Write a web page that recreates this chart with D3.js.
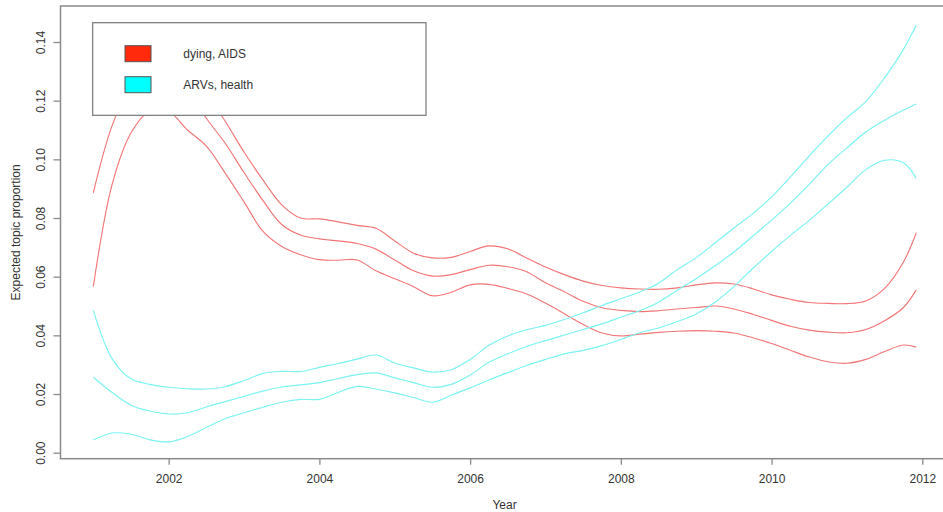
<!DOCTYPE html>
<html>
<head>
<meta charset="utf-8">
<script src="https://cdn.jsdelivr.net/npm/d3@7"></script>
<style>
  html, body { margin: 0; padding: 0; background: #fff; }
  svg { display: block; font-family: "Liberation Sans", Arial, Helvetica, sans-serif; }
</style>
</head>
<body>
<svg id="chart" width="943" height="512"></svg>
<script>
// ---- data ----
const years = [2001.00, 2001.25, 2001.50, 2001.75, 2002.00, 2002.25, 2002.50, 2002.75,
  2003.00, 2003.25, 2003.50, 2003.75, 2004.00, 2004.25, 2004.50, 2004.75,
  2005.00, 2005.25, 2005.50, 2005.75, 2006.00, 2006.25, 2006.50, 2006.75,
  2007.00, 2007.25, 2007.50, 2007.75, 2008.00, 2008.25, 2008.50, 2008.75,
  2009.00, 2009.25, 2009.50, 2009.75, 2010.00, 2010.25, 2010.50, 2010.75,
  2011.00, 2011.25, 2011.50, 2011.75, 2011.92];

const aidsUpper = [0.1210, 0.1330, 0.1410, 0.1455, 0.1435, 0.1340, 0.1225, 0.1130,
  0.1025, 0.0930, 0.0845, 0.0800, 0.0797, 0.0787, 0.0775, 0.0765,
  0.0722, 0.0680, 0.0664, 0.0666, 0.0686, 0.0705, 0.0695, 0.0664,
  0.0633, 0.0607, 0.0585, 0.0570, 0.0562, 0.0558, 0.0557, 0.0562,
  0.0572, 0.0579, 0.0575, 0.0559, 0.0538, 0.0523, 0.0512, 0.0509,
  0.0508, 0.0517, 0.0560, 0.0650, 0.0750];
const aidsMean = [0.0886, 0.1115, 0.1250, 0.1310, 0.1305, 0.1240, 0.1140, 0.1055,
  0.0955, 0.0860, 0.0778, 0.0742, 0.0729, 0.0722, 0.0713, 0.0694,
  0.0657, 0.0620, 0.0602, 0.0607, 0.0624, 0.0639, 0.0634, 0.0617,
  0.0579, 0.0549, 0.0516, 0.0494, 0.0485, 0.0481, 0.0484, 0.0490,
  0.0495, 0.0500, 0.0490, 0.0472, 0.0451, 0.0431, 0.0418, 0.0411,
  0.0409, 0.0420, 0.0450, 0.0495, 0.0555];
const aidsLower = [0.0566, 0.0915, 0.1090, 0.1165, 0.1163, 0.1100, 0.1045, 0.0953,
  0.0855, 0.0755, 0.0703, 0.0675, 0.0658, 0.0656, 0.0657, 0.0620,
  0.0593, 0.0566, 0.0535, 0.0547, 0.0572, 0.0574, 0.0560, 0.0541,
  0.0510, 0.0474, 0.0437, 0.0408, 0.0398, 0.0404, 0.0410, 0.0414,
  0.0416, 0.0414, 0.0408, 0.0392, 0.0372, 0.0349, 0.0326, 0.0310,
  0.0305, 0.0318, 0.0345, 0.0367, 0.0360];

const arvUpper = [0.0485, 0.0320, 0.0252, 0.0233, 0.0223, 0.0218, 0.0217, 0.0225,
  0.0246, 0.0270, 0.0277, 0.0277, 0.0291, 0.0304, 0.0319, 0.0333,
  0.0306, 0.0289, 0.0275, 0.0283, 0.0318, 0.0366, 0.0398, 0.0419,
  0.0434, 0.0454, 0.0477, 0.0502, 0.0525, 0.0548, 0.0578, 0.0624,
  0.0665, 0.0715, 0.0766, 0.0815, 0.0872, 0.0940, 0.1012, 0.1080,
  0.1142, 0.1197, 0.1278, 0.1375, 0.1458];
const arvMean = [0.0257, 0.0205, 0.0162, 0.0142, 0.0132, 0.0136, 0.0156, 0.0174,
  0.0192, 0.0210, 0.0224, 0.0231, 0.0239, 0.0253, 0.0266, 0.0272,
  0.0255, 0.0239, 0.0223, 0.0233, 0.0265, 0.0308, 0.0337, 0.0362,
  0.0382, 0.0401, 0.0420, 0.0439, 0.0462, 0.0484, 0.0513, 0.0554,
  0.0593, 0.0637, 0.0684, 0.0738, 0.0793, 0.0851, 0.0915, 0.0983,
  0.1039, 0.1093, 0.1133, 0.1168, 0.1189];
const arvLower = [0.0043, 0.0067, 0.0063, 0.0044, 0.0037, 0.0055, 0.0086, 0.0116,
  0.0136, 0.0155, 0.0172, 0.0182, 0.0182, 0.0205, 0.0226, 0.0217,
  0.0204, 0.0188, 0.0172, 0.0196, 0.0221, 0.0248, 0.0273, 0.0297,
  0.0318, 0.0337, 0.0349, 0.0365, 0.0386, 0.0409, 0.0425, 0.0447,
  0.0473, 0.0513, 0.0566, 0.0628, 0.0686, 0.0741, 0.0792, 0.0848,
  0.0905, 0.0965, 0.0997, 0.0988, 0.0935];

const xTicks = [2002, 2004, 2006, 2008, 2010, 2012];
const yTicks = [0.00, 0.02, 0.04, 0.06, 0.08, 0.10, 0.12, 0.14];
const legendLabels = ["dying, AIDS", "ARVs, health"];
const xTitle = "Year";
const yTitle = "Expected topic proportion";

// ---- drawing ----
const svg = d3.select("#chart");
const box = { left: 60.5, top: 6, right: 948.6, bottom: 458.7 };

const x = d3.scaleLinear().domain([2001, 2012]).range([93.3, 922.3]);
const y = d3.scaleLinear().domain([0, 0.14]).range([452.7, 42.0]);

svg.append("clipPath").attr("id", "plotclip")
  .append("rect").attr("x", box.left).attr("y", box.top)
  .attr("width", box.right - box.left).attr("height", box.bottom - box.top);

const lineGen = d3.line()
  .x((d, i) => x(years[i]))
  .y(d => y(d))
  .curve(d3.curveCatmullRom.alpha(0.5));

const redLine = "#f27676";
const cyanLine = "#7af2f2";

const series = [
  { v: aidsUpper, c: redLine }, { v: aidsMean, c: redLine }, { v: aidsLower, c: redLine },
  { v: arvUpper, c: cyanLine }, { v: arvMean, c: cyanLine }, { v: arvLower, c: cyanLine }
];

const g = svg.append("g").attr("clip-path", "url(#plotclip)");
g.selectAll("path.series").data(series).join("path")
  .attr("class", "series")
  .attr("d", d => lineGen(d.v))
  .attr("fill", "none")
  .attr("stroke", d => d.c)
  .attr("stroke-width", 1.15);

// plot box (top, left, bottom; the right side lies outside the picture)
svg.append("rect")
  .attr("x", box.left).attr("y", box.top)
  .attr("width", box.right - box.left).attr("height", box.bottom - box.top)
  .attr("fill", "none").attr("stroke", "#8a8a8a").attr("stroke-width", 1.5);

// y axis
const yAxis = svg.append("g").attr("transform", `translate(${box.left},0)`)
  .call(d3.axisLeft(y).tickValues(yTicks).tickFormat(d3.format(".2f")).tickSize(7).tickSizeOuter(0));
yAxis.select(".domain").remove();
yAxis.selectAll(".tick line").attr("stroke", "#8a8a8a").attr("stroke-width", 1.3);
yAxis.selectAll(".tick text")
  .attr("x", null)
  .attr("transform", "translate(-19.8,0) rotate(-90)")
  .attr("text-anchor", "middle")
  .attr("dy", "0.36em")
  .attr("fill", "#333")
  .style("font-size", "12px")
  .style("font-family", "'Liberation Sans', Arial, sans-serif");

// x axis
const xAxis = svg.append("g").attr("transform", `translate(0,${box.bottom})`)
  .call(d3.axisBottom(x).tickValues(xTicks).tickFormat(d3.format("d")).tickSize(6).tickSizeOuter(0));
xAxis.select(".domain").remove();
xAxis.selectAll(".tick line").attr("stroke", "#8a8a8a").attr("stroke-width", 1.3);
xAxis.selectAll(".tick text")
  .attr("y", 20.3).attr("dy", "0.36em")
  .attr("fill", "#333")
  .style("font-size", "12px")
  .style("font-family", "'Liberation Sans', Arial, sans-serif");

// axis titles
svg.append("text").text(xTitle)
  .attr("x", (box.left + box.right) / 2).attr("y", 505).attr("dy", "0.36em")
  .attr("text-anchor", "middle").attr("fill", "#333").style("font-size", "12px");
svg.append("text").text(yTitle)
  .attr("transform", `translate(15.5,${(box.top + box.bottom) / 2}) rotate(-90)`)
  .attr("text-anchor", "middle").attr("dy", "0.36em")
  .attr("fill", "#333").style("font-size", "12px");

// legend (drawn over the curves, as in the reference)
const legend = svg.append("g");
legend.append("rect")
  .attr("x", 92.7).attr("y", 22.7).attr("width", 333.3).attr("height", 92.6)
  .attr("fill", "#fff").attr("stroke", "#777").attr("stroke-width", 1.2);
const swatchColors = ["#ff2a0c", "#00ffff"];
legendLabels.forEach((lab, i) => {
  const cy = 53.7 + i * 31;
  legend.append("rect")
    .attr("x", 125).attr("y", cy - 8).attr("width", 26).attr("height", 16)
    .attr("fill", swatchColors[i]).attr("stroke", "#555").attr("stroke-width", 1);
  legend.append("text").text(lab)
    .attr("x", 183.3).attr("y", cy).attr("dy", "0.36em")
    .attr("fill", "#333").style("font-size", "12px");
});
</script>
</body>
</html>
